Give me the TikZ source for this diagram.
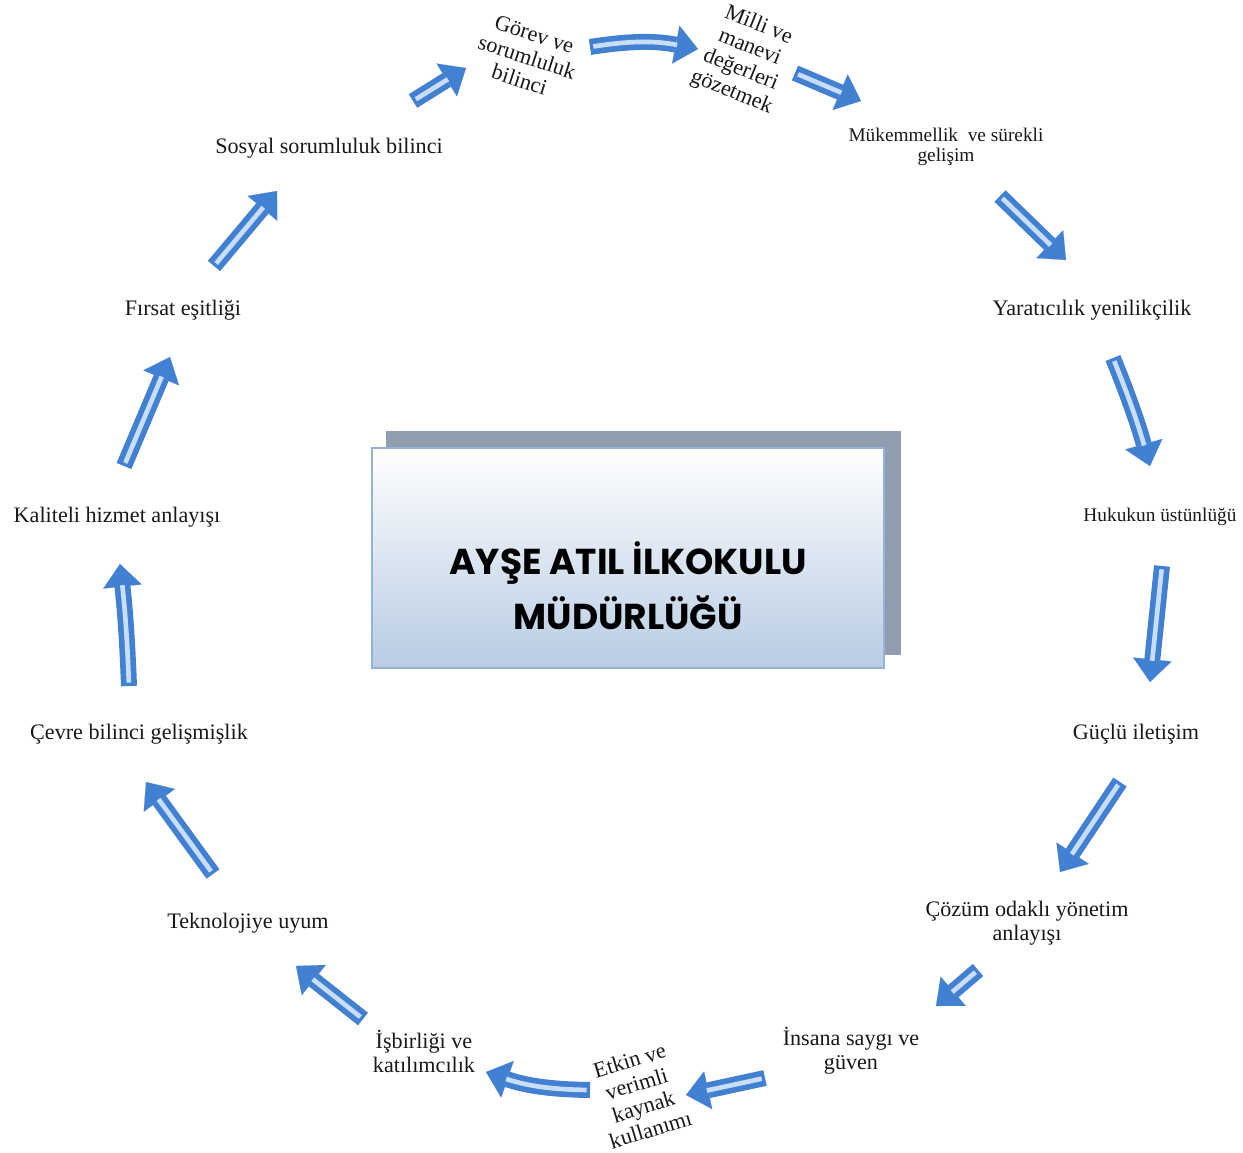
\documentclass[tikz,border=0pt]{standalone}
\usepackage{fontspec}
\setmainfont{Liberation Serif}
\newfontfamily\titlefont{Poppins}
\usepackage{tikz}
\usetikzlibrary{arrows.meta}

\definecolor{arrowblue}{RGB}{66,128,210}
\definecolor{arrowlight}{RGB}{200,222,248}
\definecolor{boxshadow}{RGB}{143,157,175}
\definecolor{boxedge}{RGB}{149,179,215}
\definecolor{boxblue}{RGB}{184,204,228}

\tikzset{
  value/.style={font=\fontsize{16.6}{18}\selectfont, align=center, text=black!90},
  smallvalue/.style={font=\fontsize{14.5}{15.5}\selectfont, align=center, text=black!90},
  flow/.style={draw=arrowblue, line width=12pt,
    -{Triangle[width=29pt,length=17pt,line width=0.1pt]},
    postaction={draw=arrowlight, line width=3.5pt, -, shorten >=16pt, shorten <=2.5pt}},
}

\begin{document}
\begin{tikzpicture}[x=0.75pt,y=-0.75pt]
            \useasboundingbox (0,0) rectangle (1243,1153);

            % center box
            \fill[boxshadow] (386,431) rectangle (901,655);
            \node[draw=boxedge, line width=1.5pt, top color=white, bottom color=boxblue,
                  minimum width=384pt, minimum height=165pt, inner sep=0pt]
                 (school) at (628,558) {};
            \node[font=\titlefont\bfseries\fontsize{27}{41}\selectfont, align=center]
                 (title) at ([yshift=-21pt]school.center) {AYŞE ATIL İLKOKULU\\MÜDÜRLÜĞÜ};

            % values
            \node[value] (sosyal) at (329,148) {Sosyal sorumluluk bilinci};
            \node[value, rotate=-18] (gorev) at (527,57) {Görev ve\\sorumluluk\\bilinci};
            \node[value, rotate=-22] (milli) at (745,59) {Milli ve\\manevi\\değerleri\\gözetmek};
            \node[smallvalue] (mukemmel) at (946,147) {Mükemmellik\ \ ve sürekli\\gelişim};
            \node[value] (yaratici) at (1092,310) {Yaratıcılık yenilikçilik};
            \node[smallvalue] (hukuk) at (1160,517) {Hukukun üstünlüğü};
            \node[value] (guclu) at (1136,734) {Güçlü iletişim};
            \node[value] (cozum) at (1027,923) {Çözüm odaklı yönetim\\anlayışı};
            \node[value] (insana) at (851,1051) {İnsana saygı ve\\güven};
            \node[value, rotate=17] (etkin) at (640,1095) {Etkin ve\\verimli\\kaynak\\kullanımı};
            \node[value] (isbirligi) at (424,1051) {İşbirliği ve\\katılımcılık};
            \node[value] (teknoloji) at (248,923) {Teknolojiye uyum};
            \node[value] (cevre) at (139,734) {Çevre bilinci gelişmişlik};
            \node[value] (kaliteli) at (117,517) {Kaliteli hizmet anlayışı};
            \node[value] (firsat) at (183,310) {Fırsat eşitliği};

            % arrow ends
            \coordinate (s1) at (413,101);  \coordinate (e1) at (466,68);
            \coordinate (s2) at (590,47);   \coordinate (e2) at (698,49);
            \coordinate (s3) at (795,73);   \coordinate (e3) at (861,101);
            \coordinate (s4) at (1000,196); \coordinate (e4) at (1066,260);
            \coordinate (s5) at (1113,358); \coordinate (e5) at (1150,466);
            \coordinate (s6) at (1162,566); \coordinate (e6) at (1150,682);
            \coordinate (s7) at (1120,782); \coordinate (e7) at (1060,872);
            \coordinate (s8) at (978,970);  \coordinate (e8) at (936,1006);
            \coordinate (s9) at (765,1078); \coordinate (e9) at (686,1095);
            \coordinate (s10) at (590,1090); \coordinate (e10) at (486,1072);
            \coordinate (s11) at (363,1019); \coordinate (e11) at (296,966);
            \coordinate (s12) at (213,874);  \coordinate (e12) at (146,782);
            \coordinate (s13) at (129,686);  \coordinate (e13) at (120,564);
            \coordinate (s14) at (124,466);  \coordinate (e14) at (170,357);
            \coordinate (s15) at (214,266);  \coordinate (e15) at (277,191);

            % arrows
            \foreach \i/\b in {1/0,2/10,3/0,4/0,5/3,6/0,7/0,8/0,9/0,10/9,11/0,12/0,13/-2,14/0,15/0}
                \draw[flow] (s\i) to[bend left=\b] (e\i);
        \end{tikzpicture}
\end{document}
